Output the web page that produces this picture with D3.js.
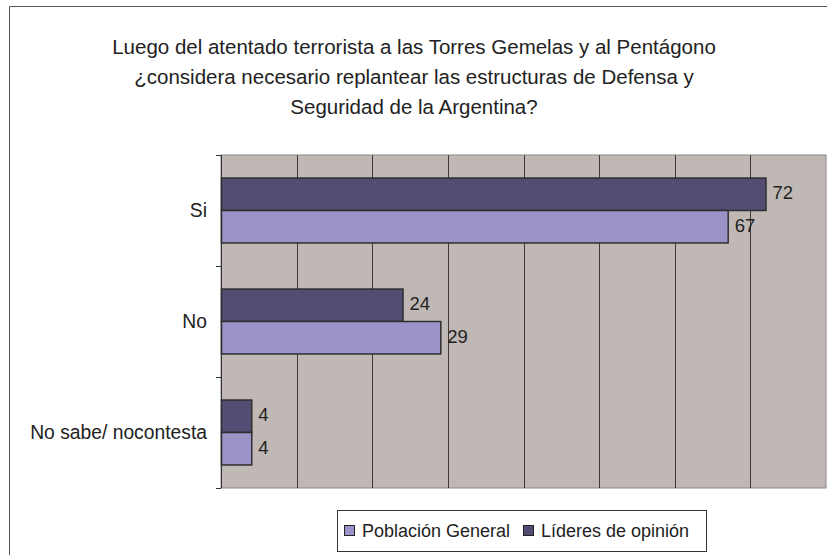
<!DOCTYPE html>
<meta charset="utf-8">
<head>
  <style>
    body { margin:0; background:#fff; }
    text { font-family: "Liberation Sans", Arial, sans-serif; fill:#222; }
  </style>
  <script src="https://d3js.org/d3.v7.min.js"></script>
</head>
<body>
<svg width="827" height="555"></svg>
<script>
  var categories = ["Si", "No", "No sabe/ nocontesta"]
  var seriesNames = ["Población General", "Líderes de opinión"]
  var poblacion = [67, 29, 4]
  var lideres = [72, 24, 4]
  var titleLines = [
    "Luego del atentado terrorista a las Torres Gemelas y al Pentágono",
    "¿considera necesario replantear las estructuras de Defensa y",
    "Seguridad de la Argentina?"
  ]

  var colors = { "Población General": "#9a94c8", "Líderes de opinión": "#534d74" }

  var svg = d3.select("svg")

  // outer frame (only top and left visible)
  svg.append("path").attr("d", "M9.5,555 V6.5 H827")
    .attr("fill", "none").attr("stroke", "#555").attr("stroke-width", 1)

  svg.append("g").selectAll("text").data(titleLines).enter().append("text")
    .attr("x", 414).attr("y", function (d, i) { return 54 + i * 30 })
    .attr("text-anchor", "middle").attr("font-size", 20.5)
    .text(function (d) { return d })

  var pLeft = 221, pRight = 826, pTop = 155, pBottom = 488

  var x = d3.scaleLinear().domain([0, 80]).range([pLeft, pRight])
  var y = d3.scaleBand().domain(categories).range([pTop, pBottom]).paddingInner(0).paddingOuter(0)
  // inner band for the two bars (Líderes above, Población below)
  var inner = d3.scaleBand().domain(["Líderes de opinión", "Población General"])
    .range([0, y.bandwidth()]).paddingOuter(0.71).paddingInner(0)

  svg.append("rect").attr("x", pLeft).attr("y", pTop)
    .attr("width", pRight - pLeft).attr("height", pBottom - pTop)
    .attr("fill", "#c0b8b5").attr("stroke", "#8a8585")

  svg.append("g").selectAll("line").data(x.ticks(8).slice(1, -1)).enter().append("line")
    .attr("x1", function (d) { return Math.round(x(d)) + 0.5 })
    .attr("x2", function (d) { return Math.round(x(d)) + 0.5 })
    .attr("y1", pTop).attr("y2", pBottom)
    .attr("stroke", "#3a3a3a").attr("stroke-width", 1)

  // category axis
  var yAxis = svg.append("g").attr("transform", "translate(" + pLeft + ",0)")
  yAxis.append("line").attr("x1", 0.5).attr("x2", 0.5).attr("y1", pTop).attr("y2", pBottom)
    .attr("stroke", "#333")
  yAxis.selectAll("line.tk").data(d3.range(categories.length + 1)).enter().append("line")
    .attr("class", "tk")
    .attr("x1", -5).attr("x2", 0)
    .attr("y1", function (i) { return pTop + i * y.step() + 0.5 })
    .attr("y2", function (i) { return pTop + i * y.step() + 0.5 })
    .attr("stroke", "#333")
  yAxis.selectAll("text").data(categories).enter().append("text")
    .attr("x", -14).attr("y", function (d) { return y(d) + y.bandwidth() / 2 })
    .attr("dy", "0.35em").attr("text-anchor", "end").attr("font-size", 19.3)
    .text(function (d) { return d })

  var rows = []
  categories.forEach(function (c, i) {
    rows.push({ cat: c, series: "Líderes de opinión", value: lideres[i] })
    rows.push({ cat: c, series: "Población General", value: poblacion[i] })
  })

  svg.append("g").selectAll("rect").data(rows).enter().append("rect")
    .attr("x", pLeft + 0.5)
    .attr("y", function (d) { return y(d.cat) + inner(d.series) })
    .attr("width", function (d) { return x(d.value) - pLeft })
    .attr("height", inner.bandwidth())
    .attr("fill", function (d) { return colors[d.series] })
    .attr("stroke", "#2e2e2e").attr("stroke-width", 1.5)

  svg.append("g").selectAll("text").data(rows).enter().append("text")
    .attr("x", function (d) { return x(d.value) + 7 })
    .attr("y", function (d) { return y(d.cat) + inner(d.series) + inner.bandwidth() / 2 - 1.5 })
    .attr("dy", "0.35em")
    .attr("font-size", 18.5)
    .text(function (d) { return d.value })

  // legend
  var lg = svg.append("g")
  lg.append("rect").attr("x", 337.5).attr("y", 510.5).attr("width", 369).attr("height", 41)
    .attr("fill", "#fff").attr("stroke", "#333")
  var lx = [344, 523]
  seriesNames.forEach(function (s, i) {
    lg.append("rect").attr("x", lx[i] + 0.5).attr("y", 525.5).attr("width", 10).attr("height", 10)
      .attr("fill", colors[s]).attr("stroke", "#222")
    lg.append("text").attr("x", lx[i] + 18).attr("y", 537).attr("font-size", 18).text(s)
  })
</script>
</body>
